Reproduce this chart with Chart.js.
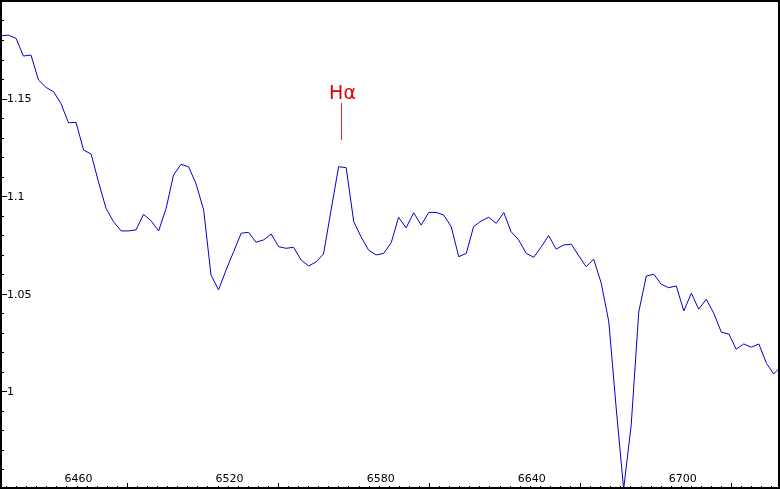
<!DOCTYPE html>
<html>
<head>
<meta charset="utf-8">
<script src="https://cdn.jsdelivr.net/npm/chart.js@4/dist/chart.umd.min.js"></script>
<style>
  html, body { margin: 0; padding: 0; background: #fff; }
  #spectre { display: block; }
</style>
</head>
<body>
<canvas id="spectre" width="780" height="489"></canvas>
<script>
const longueurs = [
  6430.0, 6433.0, 6436.0, 6438.9, 6441.9, 6444.9, 6447.9, 6450.9, 6453.8, 6456.8,
  6459.8, 6462.8, 6465.8, 6468.7, 6471.7, 6474.7, 6477.7, 6480.7, 6483.6, 6486.6,
  6489.6, 6492.6, 6495.6, 6498.5, 6501.5, 6504.5, 6507.5, 6510.5, 6513.4, 6516.4,
  6519.4, 6522.4, 6525.4, 6528.3, 6531.3, 6534.3, 6537.3, 6540.3, 6543.2, 6546.2,
  6549.2, 6552.2, 6555.2, 6558.1, 6561.1, 6564.1, 6567.1, 6570.1, 6573.0, 6576.0,
  6579.0, 6582.0, 6585.0, 6587.9, 6590.9, 6593.9, 6596.9, 6599.9, 6602.8, 6605.8,
  6608.8, 6611.8, 6614.8, 6617.7, 6620.7, 6623.7, 6626.7, 6629.7, 6632.6, 6635.6,
  6638.6, 6641.6, 6644.6, 6647.5, 6650.5, 6653.5, 6656.5, 6659.5, 6662.4, 6665.4,
  6668.4, 6671.4, 6674.4, 6677.3, 6680.3, 6683.3, 6686.3, 6689.3, 6692.2, 6695.2,
  6698.2, 6701.2, 6704.2, 6707.1, 6710.1, 6713.1, 6716.1, 6719.1, 6722.0, 6725.0,
  6728.0, 6731.0, 6734.0, 6736.9, 6739.9
];

const flux = [
  1.1822, 1.1825, 1.1808, 1.1718, 1.1723, 1.1595, 1.1557, 1.1535, 1.1475, 1.1376,
  1.1378, 1.1236, 1.1216, 1.1074, 1.0938, 1.0869, 1.0822, 1.0822, 1.0827, 1.0907,
  1.0874, 1.0822, 1.0938, 1.1108, 1.1163, 1.1151, 1.1062, 1.0929, 1.0596, 1.0520,
  1.0622, 1.0716, 1.0810, 1.0815, 1.0764, 1.0776, 1.0806, 1.0741, 1.0733, 1.0738,
  1.0673, 1.0642, 1.0664, 1.0704, 1.0929, 1.1151, 1.1146, 1.0869, 1.0792, 1.0724,
  1.0699, 1.0707, 1.0762, 1.0892, 1.0838, 1.0915, 1.0852, 1.0917, 1.0917, 1.0904,
  1.0844, 1.0690, 1.0707, 1.0844, 1.0873, 1.0892, 1.0861, 1.0916, 1.0818, 1.0776,
  1.0707, 1.0687, 1.0741, 1.0798, 1.0729, 1.0750, 1.0754, 1.0694, 1.0639, 1.0677,
  1.0554, 1.0357, 0.9905, 0.9500, 0.9828, 1.0407, 1.0591, 1.0600, 1.0549, 1.0531,
  1.0540, 1.0412, 1.0503, 1.0421, 1.0472, 1.0400, 1.0303, 1.0294, 1.0216, 1.0243,
  1.0226, 1.0243, 1.0144, 1.0089, 1.0130
];

const ticksX = [6460, 6520, 6580, 6640, 6700];
const ticksY = ["1", "1.05", "1.1", "1.15"];

const raieNom = "Hα";
const raieLongueur = 6565.2;
const raieHaut = 1.1477;
const raieBas = 1.1288;

const xMin = 6430, xMax = 6739;
const yMin = 0.9505, yMax = 1.2005;

const axesPlugin = {
  id: "axesSpectre",
  afterDraw(chart) {
    const ctx = chart.ctx;
    const sx = chart.scales.x;
    const sy = chart.scales.y;
    const bas = 488;

    ctx.save();
    ctx.strokeStyle = "#000";
    ctx.lineWidth = 1;

    // graduations secondaires et principales en X
    ctx.beginPath();
    for (let v = 6432; v <= xMax; v += 4) {
      const px = Math.round(sx.getPixelForValue(v)) + 0.5;
      const long = v % 60 === 0 ? 5 : 2;
      ctx.moveTo(px, bas);
      ctx.lineTo(px, bas - long);
    }
    // graduations en Y
    for (let i = 96; i <= 120; i++) {
      const py = Math.round(sy.getPixelForValue(i / 100)) + 0.5;
      const long = i % 5 === 0 ? 6 : 3;
      ctx.moveTo(1, py);
      ctx.lineTo(1 + long, py);
    }
    ctx.stroke();

    ctx.lineWidth = 2;
    ctx.strokeRect(1, 1, 778, 487);

    ctx.fillStyle = "#000";
    ctx.font = "11px 'DejaVu Sans'";
    ctx.textAlign = "center";
    ctx.textBaseline = "alphabetic";
    ticksX.forEach((v) => {
      ctx.fillText(String(v), sx.getPixelForValue(v) + 2, 482);
    });
    ctx.textAlign = "left";
    ctx.textBaseline = "middle";
    ticksY.forEach((t) => {
      ctx.fillText(t, 7, sy.getPixelForValue(Number(t)) + 1);
    });

    // repère de la raie H alpha
    const rx = Math.round(sx.getPixelForValue(raieLongueur)) + 0.5;
    ctx.strokeStyle = "#d42a2a";
    ctx.lineWidth = 1;
    ctx.beginPath();
    ctx.moveTo(rx, sy.getPixelForValue(raieHaut));
    ctx.lineTo(rx, sy.getPixelForValue(raieBas));
    ctx.stroke();
    ctx.fillStyle = "#e00000";
    ctx.font = "19px 'DejaVu Sans'";
    ctx.textAlign = "center";
    ctx.textBaseline = "alphabetic";
    ctx.fillText(raieNom, rx + 1, 99);
    ctx.restore();
  }
};

new Chart(document.getElementById("spectre"), {
  type: "line",
  data: {
    datasets: [{
      data: longueurs.map((l, i) => ({ x: l, y: flux[i] })),
      borderColor: "rgb(0, 0, 205)",
      borderWidth: 1,
      pointRadius: 0,
      tension: 0,
      fill: false
    }]
  },
  options: {
    responsive: false,
    animation: false,
    devicePixelRatio: 1,
    layout: { padding: { left: 1, right: 1, top: 0, bottom: 1 } },
    plugins: { legend: { display: false }, tooltip: { enabled: false } },
    scales: {
      x: { type: "linear", min: xMin, max: xMax, display: false },
      y: { type: "linear", min: yMin, max: yMax, display: false }
    }
  },
  plugins: [axesPlugin]
});
</script>
</body>
</html>
